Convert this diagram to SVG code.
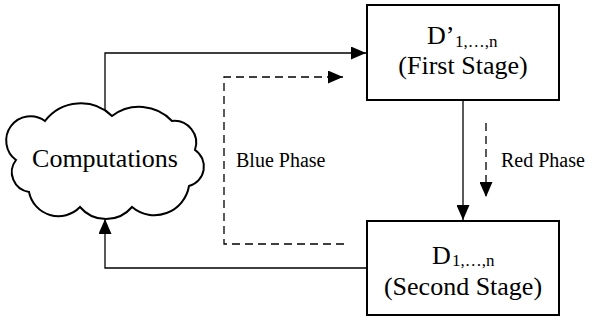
<svg xmlns="http://www.w3.org/2000/svg" width="611" height="320" viewBox="0 0 611 320">
<style>
.box{fill:#fff;stroke:#000;stroke-width:2}
.cloud{fill:#fff;stroke:#000;stroke-width:2}
text{font-family:'Liberation Serif','Times New Roman','DejaVu Serif',serif;fill:#000}
.big{font-size:26px}
.sub{font-size:17px}
.lab{font-size:20px}
.ln{fill:none;stroke:#000;stroke-width:1.3}
.dash{stroke-dasharray:8,5}
</style>
<defs>
<marker id="ah" markerUnits="userSpaceOnUse" markerWidth="15" markerHeight="13" viewBox="0 0 15 13" refX="15" refY="6.5" orient="auto">
<path d="M0,0 L15,6.5 L0,13 Z" fill="#000"/>
</marker>
</defs>
<g id="cloud">
<path class="cloud" d="M16,160 A24,24 0 0 1 45,121 A45,45 0 0 1 112,116 A45,45 0 0 1 172,121 A22,22 0 0 1 195,150 A20,20 0 0 1 189,186 A35,35 0 0 1 132,207 A34,34 0 0 1 80,207 A30,30 0 0 1 29,192 A20,20 0 0 1 16,160 Z"/>
<text class="big" x="105" y="167" text-anchor="middle">Computations</text>
</g>
<g id="first">
<rect class="box" x="367" y="5" width="192" height="95"/>
<text class="big" x="427" y="44">D’</text>
<text class="sub" x="455" y="47">1,…,n</text>
<text class="big" x="463" y="74" text-anchor="middle">(First Stage)</text>
</g>
<g id="second">
<rect class="box" x="367" y="221" width="192" height="94"/>
<text class="big" x="432" y="264">D</text>
<text class="sub" x="452" y="266">1,…,n</text>
<text class="big" x="463" y="295" text-anchor="middle">(Second Stage)</text>
</g>
<g id="connectors">
<path class="ln" d="M105,110 V53 H366" marker-end="url(#ah)"/>
<path class="ln" d="M463,100 V220" marker-end="url(#ah)"/>
<path class="ln" d="M367,268 H105 V219" marker-end="url(#ah)"/>
<path class="ln dash" d="M344,244 H224 V77 H343" marker-end="url(#ah)"/>
<path class="ln dash" d="M486,123 V197" marker-end="url(#ah)"/>
<text class="lab" x="236" y="167">Blue Phase</text>
<text class="lab" x="501" y="167">Red Phase</text>
</g>
</svg>
